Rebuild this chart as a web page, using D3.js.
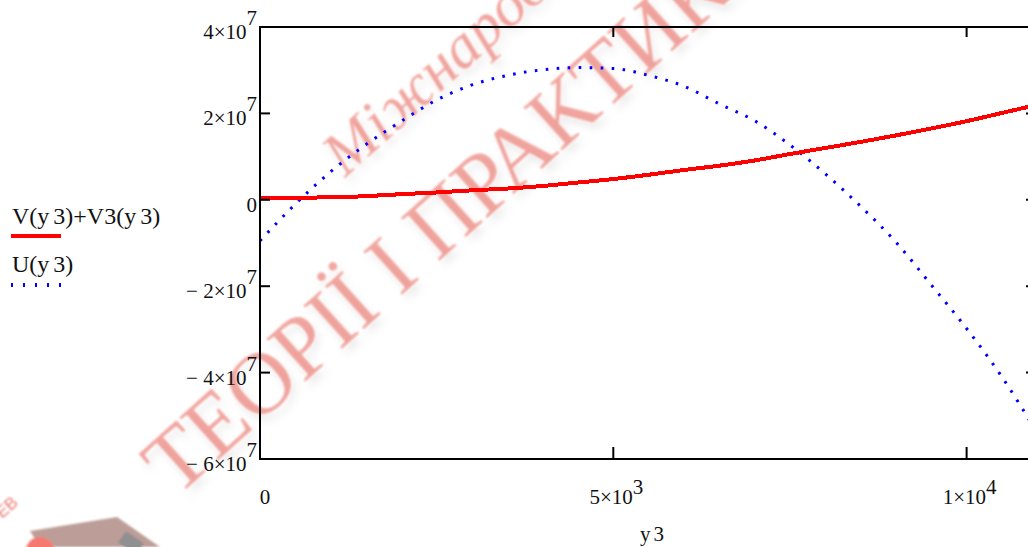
<!DOCTYPE html>
<html>
<head>
<meta charset="utf-8">
<script src="https://cdn.jsdelivr.net/npm/d3@7"></script>
<style>
  html, body { margin: 0; padding: 0; background: #fff; overflow: hidden; }
  svg { display: block; }
  svg text { font-family: 'Liberation Serif', 'Times New Roman', Tinos, 'DejaVu Serif', serif; fill: #111; }
</style>
</head>
<body>
<svg id="chart" width="1028" height="547"></svg>
<script>
// ---- data ----
const y3 = [0, 500, 1000, 1500, 2000, 2500, 3000, 3500, 4000, 4500, 5000, 5500,
            6000, 6500, 7000, 7500, 8000, 8500, 9000, 9500, 10000, 10500, 11000];
const vSum = [0.05e7, 0.05e7, 0.055e7, 0.085e7, 0.13e7, 0.17e7, 0.22e7, 0.26e7, 0.32e7, 0.4e7, 0.48e7, 0.58e7,
              0.69e7, 0.79e7, 0.91e7, 1.06e7, 1.2e7, 1.34e7, 1.49e7, 1.65e7, 1.82e7, 2.01e7, 2.2e7];
const uVals = [-0.95e7, -0.1e7, 0.65e7, 1.28e7, 1.82e7, 2.31e7, 2.66e7, 2.88e7, 3.01e7, 3.06e7, 3.04e7, 2.88e7,
               2.63e7, 2.22e7, 1.83e7, 1.27e7, 0.6e7, -0.15e7, -0.98e7, -1.97e7, -2.98e7, -4.1e7, -5.4e7];
const yTicks = [4e7, 2e7, 0, -2e7, -4e7, -6e7];
const yTickLabels = [["4×10", "7"], ["2×10", "7"], ["0", ""], ["− 2×10", "7"], ["− 4×10", "7"], ["− 6×10", "7"]];
const xTicks = [0, 5000, 10000];
const xTickLabels = [["0", ""], ["5×10", "3"], ["1×10", "4"]];
const seriesNames = ["V(y3)+V3(y3)", "U(y3)"];
const xTitle = "y3";
const wmMain = "ТЕОРІЇ І ПРАКТИКИ";
const wmSub = "Міжнародний";

const SERIF = "'Liberation Serif', 'Times New Roman', Tinos, 'DejaVu Serif', serif";

// ---- layout ----
const svg = d3.select("#chart");
const L = 260, R = 1036, T = 27, B = 459;
const x = d3.scaleLinear().domain([0, 10982]).range([L, R]);
const y = d3.scaleLinear().domain([-6e7, 4e7]).range([B, T]);

const defs = svg.append("defs");
const f = defs.append("filter").attr("id", "wm").attr("x", "-20%").attr("y", "-20%").attr("width", "140%").attr("height", "140%");
f.append("feGaussianBlur").attr("in", "SourceAlpha").attr("stdDeviation", 4.5).attr("result", "b");
f.append("feOffset").attr("in", "b").attr("dx", 4).attr("dy", 6).attr("result", "o");
f.append("feFlood").attr("flood-color", "#000").attr("flood-opacity", 0.15).attr("result", "c");
f.append("feComposite").attr("in", "c").attr("in2", "o").attr("operator", "in").attr("result", "s");
f.append("feGaussianBlur").attr("in", "SourceGraphic").attr("stdDeviation", 1.2).attr("result", "g");
const m = f.append("feMerge");
m.append("feMergeNode").attr("in", "s");
m.append("feMergeNode").attr("in", "g");

const f2 = defs.append("filter").attr("id", "soft");
f2.append("feGaussianBlur").attr("stdDeviation", 1.3);

defs.append("clipPath").attr("id", "plotclip")
  .append("rect").attr("x", L).attr("y", T).attr("width", R - L).attr("height", B - T);

// ---- watermark (behind chart) ----
const wm = svg.append("g").attr("filter", "url(#wm)");
wm.append("text")
  .attr("transform", "translate(176,498) rotate(-42)")
  .attr("font-family", SERIF)
  .style("font-size", "88px")
  .style("fill", "#e8675c").style("fill-opacity", 0.58)
  .text(wmMain);
wm.append("text")
  .attr("transform", "translate(345,178) rotate(-42)")
  .attr("font-family", SERIF)
  .style("font-size", "62px").style("font-style", "italic")
  .style("fill", "#e8675c").style("fill-opacity", 0.58)
  .text(wmSub);

// bottom-left logo fragment
const logo = svg.append("g").attr("filter", "url(#soft)").attr("opacity", 0.65);
logo.append("polygon").attr("points", "30,531 117,517 160,547 40,547").attr("fill", "#9a6a60");
logo.append("circle").attr("cx", 40).attr("cy", 551).attr("r", 14).attr("fill", "#f03028");
logo.append("rect").attr("x", 120).attr("y", 536).attr("width", 22).attr("height", 14).attr("fill", "#555")
  .attr("transform", "rotate(35,131,543)");
logo.append("text").attr("transform", "translate(2,519) rotate(-42)")
  .attr("font-family", "'Liberation Sans', Arial, sans-serif")
  .style("font-size", "17px").style("font-family", "'Liberation Sans', Arial, sans-serif")
  .style("fill", "#e03028").text("ЕВ");

// ---- series ----
const pts = (vals) => y3.map((d, i) => [d, vals[i]]);
const line = d3.line().x(d => x(d[0])).y(d => y(d[1])).curve(d3.curveMonotoneX);
const plot = svg.append("g").attr("clip-path", "url(#plotclip)");
plot.append("path").datum(pts(uVals))
  .attr("d", line).attr("fill", "none")
  .attr("stroke", "#0000ff").attr("stroke-width", 3)
  .attr("stroke-dasharray", "2.6,8.4");
plot.append("path").datum(pts(vSum))
  .attr("d", line).attr("fill", "none")
  .attr("stroke", "#ff0000").attr("stroke-width", 4)
  .style("shape-rendering", "crispEdges");

// ---- axes / frame ----
const ax = svg.append("g").attr("stroke", "#000").attr("stroke-width", 2).attr("fill", "none");
ax.append("rect").attr("x", L).attr("y", T).attr("width", R - L).attr("height", B - T);
yTicks.forEach(v => {
  ax.append("line").attr("x1", L).attr("x2", L + 10).attr("y1", y(v)).attr("y2", y(v));
  ax.append("line").attr("x1", R - 10).attr("x2", R).attr("y1", y(v)).attr("y2", y(v));
});
xTicks.forEach(v => {
  ax.append("line").attr("x1", x(v)).attr("x2", x(v)).attr("y1", T).attr("y2", T + 10);
  ax.append("line").attr("x1", x(v)).attr("x2", x(v)).attr("y1", B).attr("y2", B - 12);
});

// y tick labels
yTicks.forEach((v, i) => {
  const [main, sup] = yTickLabels[i];
  const t = svg.append("text").attr("x", 257).attr("y", y(v) + 12)
    .attr("text-anchor", "end").attr("font-family", SERIF).style("font-size", "21px");
  t.append("tspan").text(main);
  if (sup) t.append("tspan").attr("dy", -14).text(sup);
});
// x tick labels
xTicks.forEach((v, i) => {
  const [main, sup] = xTickLabels[i];
  const t = svg.append("text").attr("x", x(v) + (sup ? 3 : 5)).attr("y", 504)
    .attr("text-anchor", "middle").attr("font-family", SERIF).style("font-size", "21px");
  t.append("tspan").text(main);
  if (sup) t.append("tspan").attr("dy", -10).text(sup);
});
// x title
const xt = svg.append("text").attr("x", 640).attr("y", 541).attr("font-family", SERIF).style("font-size", "21px");
xt.append("tspan").text(xTitle[0]);
xt.append("tspan").attr("dx", 3).text(xTitle.slice(1));

// ---- legend ----
function legendLabel(str, yy) {
  const t = svg.append("text").attr("x", 12).attr("y", yy).attr("font-family", SERIF).style("font-size", "24px");
  const parts = str.split(/(?<=y)(?=3)/);
  parts.forEach((p, k) => {
    const s = t.append("tspan").text(p);
    if (k > 0) s.attr("dx", 4);
  });
}
legendLabel(seriesNames[0], 224);
svg.append("line").attr("x1", 11).attr("x2", 61).attr("y1", 236).attr("y2", 236)
  .attr("stroke", "#ff0000").attr("stroke-width", 4);
legendLabel(seriesNames[1], 272);
svg.append("line").attr("x1", 11).attr("x2", 62).attr("y1", 285).attr("y2", 285)
  .attr("stroke", "#0000ff").attr("stroke-width", 4).attr("stroke-dasharray", "2,10");
</script>
</body>
</html>
